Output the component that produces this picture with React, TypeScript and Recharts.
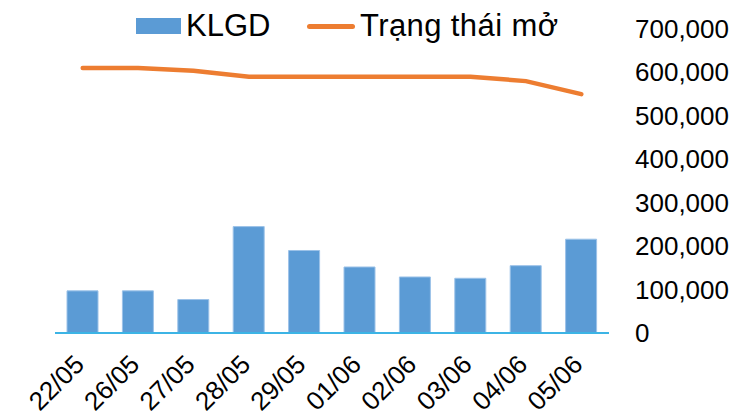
import React from 'react'
import { ComposedChart, Bar, Line, XAxis, YAxis, Legend } from 'recharts'

const dates = ['22/05', '26/05', '27/05', '28/05', '29/05', '01/06', '02/06', '03/06', '04/06', '05/06']
const klgd = [97000, 97000, 77000, 245000, 190000, 152000, 129000, 126000, 155000, 216000]
const trangThaiMo = [610000, 610000, 604000, 590000, 590000, 590000, 590000, 590000, 580000, 550000]
const yTicks = [0, 100000, 200000, 300000, 400000, 500000, 600000, 700000]

const data = dates.map((d, i) => ({ date: d, klgd: klgd[i], mo: trangThaiMo[i] }))

const FONT = '"Liberation Sans", Arial, sans-serif'
const BLUE = '#5B9BD5'
const ORANGE = '#ED7D31'

const fmt = (v: number) => v.toLocaleString('en-US')

const XTick = (props: any) => {
  const { x, payload } = props
  const ax = x + 3
  const ay = 366
  return (
    <text
      x={ax}
      y={ay}
      textAnchor="end"
      transform={`rotate(-45 ${ax} ${ay})`}
      fontFamily={FONT}
      fontSize={26}
      fill="#000"
    >
      {payload.value}
    </text>
  )
}

const YTick = (props: any) => {
  const { x, y, payload } = props
  return (
    <text x={x} y={y} dy={9} textAnchor="start" fontFamily={FONT} fontSize={26} fill="#000">
      {fmt(payload.value)}
    </text>
  )
}

const LegendContent = () => (
  <div style={{ position: 'relative', width: 741, height: 50, fontFamily: FONT, fontSize: 31, color: '#000' }}>
    <div style={{ position: 'absolute', left: 136, top: 18, width: 45, height: 16, background: BLUE }} />
    <span style={{ position: 'absolute', left: 186, top: 11, lineHeight: '30px', whiteSpace: 'nowrap' }}>KLGD</span>
    <div style={{ position: 'absolute', left: 307, top: 24, width: 48, height: 5, borderRadius: 3, background: ORANGE }} />
    <span style={{ position: 'absolute', left: 360, top: 11, lineHeight: '30px', whiteSpace: 'nowrap', letterSpacing: 0.4 }}>Trạng thái mở</span>
  </div>
)

export default function App() {
  return (
    <div style={{ position: 'absolute', left: 0, top: 0, width: 741, height: 417, background: '#fff', overflow: 'hidden' }}>
      <ComposedChart width={741} height={417} data={data} margin={{ top: 29, right: 0, bottom: 0, left: 55 }}>
        <XAxis
          dataKey="date"
          height={84}
          axisLine={{ stroke: '#3CB4E5', strokeWidth: 2 }}
          tickLine={false}
          tick={<XTick />}
          interval={0}
        />
        <YAxis
          orientation="right"
          width={132}
          domain={[0, 700000]}
          ticks={yTicks}
          axisLine={false}
          tickLine={false}
          tickSize={0}
          tickMargin={26}
          tick={<YTick />}
          interval={0}
        />
        <Legend
          verticalAlign="middle"
          align="center"
          layout="horizontal"
          wrapperStyle={{ top: 0, left: 0, width: 741, height: 50 }}
          content={<LegendContent />}
        />
        <Bar dataKey="klgd" name="KLGD" fill={BLUE} stroke="#9CC2E8" strokeWidth={1} barSize={31} isAnimationActive={false} />
        <Line
          dataKey="mo"
          name="Trạng thái mở"
          type="linear"
          stroke={ORANGE}
          strokeWidth={4.5}
          strokeLinecap="round"
          dot={false}
          activeDot={false}
          isAnimationActive={false}
        />
      </ComposedChart>
    </div>
  )
}
